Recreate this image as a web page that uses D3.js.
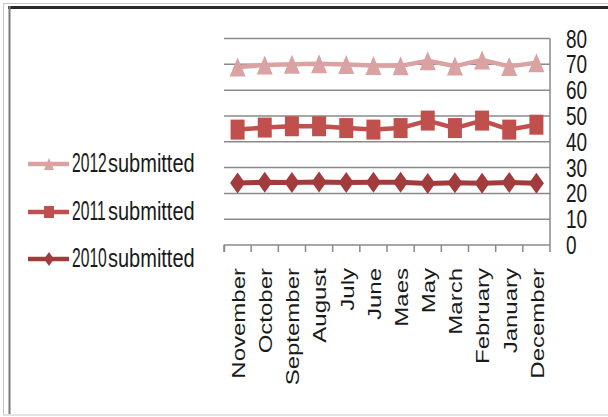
<!DOCTYPE html>
<html>
<head>
<meta charset="utf-8">
<script src="https://cdn.jsdelivr.net/npm/d3@7"></script>
<style>
html,body{margin:0;padding:0;background:#fff;}
svg{display:block;}
text{font-family:"Liberation Sans",Arial,sans-serif;fill:#1a1a1a;}
</style>
</head>
<body>
<svg id="chart" width="608" height="417"></svg>
<script>
const months = ["November","October","September","August","July","June","Maes","May","March","February","January","December"];
const seriesNames = ["2012submitted","2011submitted","2010submitted"];
const values2012 = [69.0,69.7,70.0,70.2,69.9,69.5,69.4,71.4,69.3,71.7,69.2,70.6];
const values2011 = [44.7,45.5,46.0,46.0,45.3,44.7,45.3,48.2,45.3,48.2,44.7,46.6];
const values2010 = [24.0,24.3,24.2,24.4,24.2,24.3,24.3,23.8,24.1,23.9,24.2,23.9];
const yTicks = [0,10,20,30,40,50,60,70,80];

const svg = d3.select("#chart");

// frame
svg.append("rect").attr("x",3.5).attr("y",3.5).attr("width",610).attr("height",411.5)
  .attr("fill","none").attr("stroke","#c8c8c8").attr("stroke-width",1);
svg.append("line").attr("x1",8).attr("x2",608).attr("y1",7.5).attr("y2",7.5)
  .attr("stroke","#2a2a2a").attr("stroke-width",3);
svg.append("line").attr("x1",9.5).attr("x2",9.5).attr("y1",6).attr("y2",414)
  .attr("stroke","#7a7a7a").attr("stroke-width",2);

const x = d3.scaleBand().domain(months).range([224,550]).padding(0);
const y = d3.scaleLinear().domain([0,80]).range([245,38.5]);

// gridlines
svg.append("g").selectAll("line").data(yTicks.filter(d=>d>0)).join("line")
  .attr("x1",224).attr("x2",550).attr("y1",d=>y(d)).attr("y2",d=>y(d))
  .attr("stroke","#8a8a8a").attr("stroke-width",1.5);

// x axis
const xAxis = d3.axisBottom(x).tickSize(7).tickFormat("");
const gx = svg.append("g").attr("transform",`translate(0,${y(0)})`).call(xAxis);
gx.select(".domain").attr("stroke","#8a8a8a").attr("stroke-width",1.5).attr("d","M224.5,7V0H550");
gx.selectAll(".tick line").attr("stroke","#8a8a8a").attr("stroke-width",1.5)
  .attr("transform",`translate(${-x.bandwidth()/2},0)`);
svg.append("line").attr("x1",550).attr("x2",550).attr("y1",y(80)).attr("y2",y(0)+7)
  .attr("stroke","#8a8a8a").attr("stroke-width",1.5);

// x labels
svg.append("g").selectAll("text").data(months).join("text")
  .attr("transform",d=>`translate(${x(d)+x.bandwidth()/2+1},268) scale(0.75,1) rotate(-90)`)
  .attr("text-anchor","end").attr("dy","0.35em").attr("font-size",24).text(d=>d);

// y labels
svg.append("g").selectAll("text").data(yTicks).join("text")
  .attr("transform",d=>`translate(566,${y(d)}) scale(0.76,1)`)
  .attr("dy","0.36em").attr("font-size",25).text(d=>d);

// marker paths
function tri(w,h){return `M0,${-h/2}L${w/2},${h/2}L${-w/2},${h/2}Z`;}
function sq(w,h){return `M${-w/2},${-h/2}H${w/2}V${h/2}H${-w/2}Z`;}
function dia(w,h){return `M0,${-h/2}L${w/2},0L0,${h/2}L${-w/2},0Z`;}

const series = [
  {name:seriesNames[0], vals:values2012, color:"#daa2a2", lw:4.5, marker:tri(16,19), lmarker:tri(10,12), ly:164},
  {name:seriesNames[1], vals:values2011, color:"#c0504d", lw:4.5, marker:sq(14,20), lmarker:sq(10,12), ly:212},
  {name:seriesNames[2], vals:values2010, color:"#a23c3c", lw:5, marker:dia(15,21), lmarker:dia(10,14), ly:259}
];

const line = d3.line().x((d,i)=>x(months[i])+x.bandwidth()/2).y(d=>y(d));

series.forEach(s=>{
  const g = svg.append("g");
  g.append("path").attr("d",line(s.vals)).attr("fill","none")
    .attr("stroke",s.color).attr("stroke-width",s.lw).attr("stroke-linejoin","round");
  g.selectAll("path.m").data(s.vals).join("path").attr("class","m")
    .attr("d",s.marker).attr("fill",s.color)
    .attr("transform",(d,i)=>`translate(${x(months[i])+x.bandwidth()/2},${y(d)})`);
  // legend
  const lg = svg.append("g");
  lg.append("line").attr("x1",28).attr("x2",69).attr("y1",s.ly).attr("y2",s.ly)
    .attr("stroke",s.color).attr("stroke-width",4.5);
  lg.append("path").attr("d",s.lmarker).attr("fill",s.color).attr("transform",`translate(49,${s.ly})`);
  const yr = s.name.slice(0,4), rest = s.name.slice(4);
  lg.append("text").attr("transform",`translate(72,${s.ly+8}) scale(0.58,1)`)
    .attr("font-size",27).text(yr);
  lg.append("text").attr("transform",`translate(108,${s.ly+8}) scale(0.8,1)`)
    .attr("font-size",25).text(rest);
});
</script>
</body>
</html>
